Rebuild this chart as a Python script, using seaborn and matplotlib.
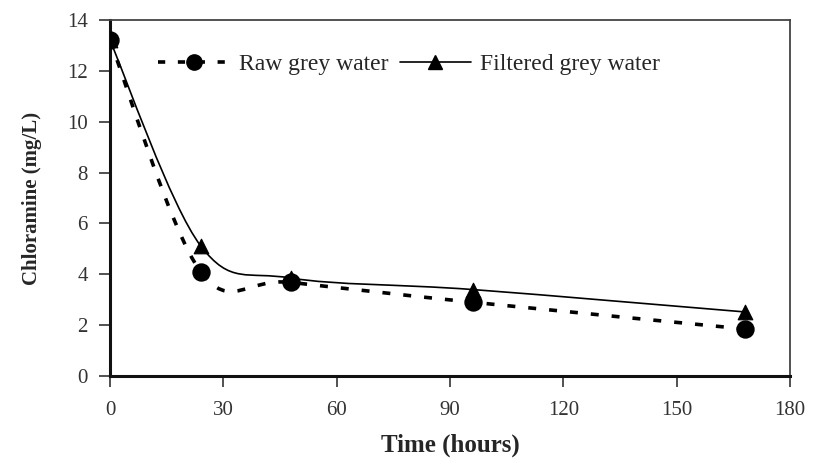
import numpy as np
import pandas as pd
import matplotlib
matplotlib.use("Agg")
import matplotlib.pyplot as plt
from matplotlib.path import Path
from matplotlib.patches import PathPatch
from matplotlib.lines import Line2D
import seaborn as sns

time_h = [0, 24, 48, 96, 168]
raw_grey = [13.2, 4.1, 3.68, 2.9, 1.85]
filtered_grey = [13.2, 5.12, 3.85, 3.4, 2.52]
x_ticks = [0, 30, 60, 90, 120, 150, 180]
y_ticks = [0, 2, 4, 6, 8, 10, 12, 14]

sns.set_theme(style="ticks")
plt.rcParams['font.family'] = ['Liberation Serif', 'DejaVu Serif']

fig = plt.figure(figsize=(8.14, 4.58), dpi=100)
ax = fig.add_axes([110 / 814, 1 - 376 / 458, 680 / 814, 356 / 458])

def smooth_path(xs, ys):
    # Excel-style smoothed line: cubic Bezier segments through each data point
    pts = np.column_stack([xs, ys]).astype(float)
    n = len(pts)
    verts = [pts[0]]
    codes = [Path.MOVETO]
    for i in range(n - 1):
        p0 = pts[i - 1] if i > 0 else pts[i]
        p1 = pts[i]
        p2 = pts[i + 1]
        p3 = pts[i + 2] if i + 2 < n else pts[i + 1]
        c1 = p1 + (p2 - p0) / 6.0
        c2 = p2 - (p3 - p1) / 6.0
        verts += [c1, c2, p2]
        codes += [Path.CURVE4] * 3
    return Path(verts, codes)

ax.add_patch(PathPatch(smooth_path(time_h, raw_grey), fill=False, edgecolor='black',
                       lw=2.6, linestyle=(0, (2.2, 3.6)), capstyle='butt', zorder=2))
ax.add_patch(PathPatch(smooth_path(time_h, filtered_grey), fill=False, edgecolor='black',
                       lw=1.2, zorder=2))

df_raw = pd.DataFrame({"t": time_h, "v": raw_grey})
df_fil = pd.DataFrame({"t": time_h, "v": filtered_grey})
sns.scatterplot(data=df_raw, x="t", y="v", marker="o", s=150, color="black",
                edgecolor="black", ax=ax, zorder=3, legend=False)
sns.scatterplot(data=df_fil, x="t", y="v", marker="^", s=110, color="black",
                edgecolor="black", ax=ax, zorder=3, legend=False)

ax.set_xlim(0, 180)
ax.set_ylim(0, 14)
ax.set_xticks(x_ticks)
ax.set_yticks(y_ticks)
ax.tick_params(axis='both', direction='out', length=8, width=1.2, color='#333333',
               labelsize=15, labelcolor='#333333', pad=8)
ax.tick_params(axis='x', pad=10)
for s in ax.spines.values():
    s.set_color('#444444')
    s.set_linewidth(1.3)
ax.spines['left'].set_linewidth(2.2)
ax.spines['bottom'].set_linewidth(2.2)
ax.spines['left'].set_color('#111111')
ax.spines['bottom'].set_color('#111111')

ax.set_xlabel("Time (hours)", fontsize=18, fontweight='bold', labelpad=10)
ax.set_ylabel("Chloramine (mg/L)", fontsize=15, fontweight='bold', labelpad=18)

handles = [
    Line2D([], [], color='black', lw=2.6, linestyle=(0, (2, 3.5)), marker='o', markersize=11),
    Line2D([], [], color='black', lw=1.2, marker='^', markersize=10),
]
ax.legend(handles, ["Raw grey water", "Filtered grey water"], loc='upper left',
          bbox_to_anchor=(0.04, 0.965), ncol=2, frameon=False, fontsize=17,
          handlelength=3.0, handletextpad=0.4, columnspacing=0.5)

fig.savefig("out.png", dpi=100, facecolor='white')
